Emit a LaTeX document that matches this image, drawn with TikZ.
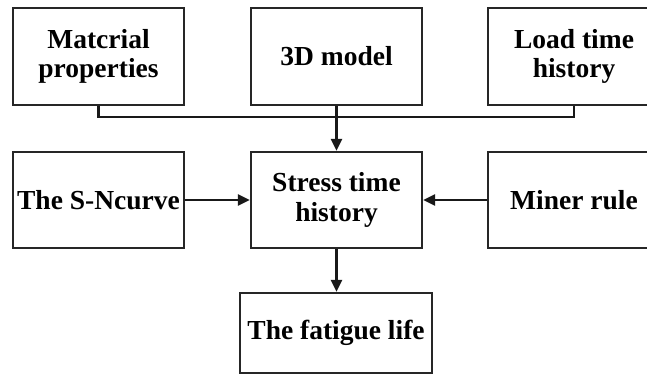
\documentclass[tikz,border=0pt]{standalone}
\usepackage{fontspec}
\setmainfont{Liberation Serif}
\usetikzlibrary{arrows.meta}
\begin{document}
\begin{tikzpicture}[x=1pt,y=-1pt,
  box/.style={draw=black!85, line width=2.2pt, fill=white, inner sep=0pt, align=center,
    minimum width=171pt, minimum height=97pt,
    font=\bfseries\fontsize{27.5}{29.5}\selectfont},
  conn/.style={draw=black!90, line width=2.4pt},
  arr/.style={conn, -{Triangle[length=12pt,width=11pt]}}]
\useasboundingbox (0,0) rectangle (647,375);
\clip (0,0) rectangle (647,375);
\node[box] (mat) at (98.5,56.5) {Matcrial\\properties};
\node[box] (model) at (336.5,56.5) {3D model};
\node[box, minimum width=172pt] (load) at (574,56.5) {Load time\\history};
\node[box, minimum height=96pt] (sn) at (98.5,200) {The S-Ncurve};
\node[box, minimum height=96pt] (stress) at (336.5,200) {Stress time\\history};
\node[box, minimum height=96pt, minimum width=172pt] (miner) at (574,200) {Miner rule};
\node[box, minimum width=192pt, minimum height=80pt] (fat) at (336,333) {The fatigue life};
\coordinate (bus) at (336.5,117);
\draw[conn] (mat.south) |- (bus) -| (load.south);
\draw[arr] (model.south) -- (stress.north);
\draw[arr] (sn.east) -- (stress.west);
\draw[arr] (miner.west) -- (stress.east);
\draw[arr] (stress.south) -- (stress.south |- fat.north);
\end{tikzpicture}
\end{document}
